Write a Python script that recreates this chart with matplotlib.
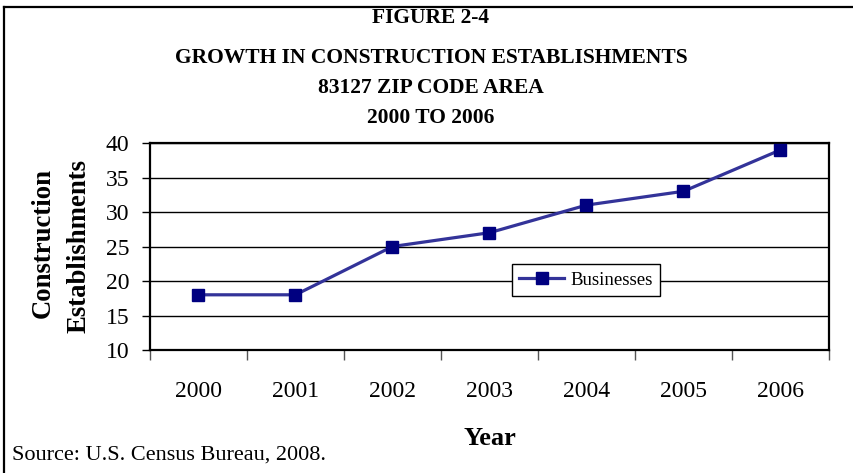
import matplotlib.pyplot as plt
from matplotlib.lines import Line2D

years = ['2000', '2001', '2002', '2003', '2004', '2005', '2006']
businesses = [18, 18, 25, 27, 31, 33, 39]
yticks = [10, 15, 20, 25, 30, 35, 40]
title_lines = ['FIGURE 2-4',
               'GROWTH IN CONSTRUCTION ESTABLISHMENTS',
               '83127 ZIP CODE AREA',
               '2000 TO 2006']

plt.rcParams['font.family'] = ['Liberation Serif', 'DejaVu Serif']

W, H = 854, 473
fig = plt.figure(figsize=(W / 100, H / 100), dpi=100)
ax = fig.add_axes([150 / W, 1 - 350 / H, (829 - 150) / W, (350 - 143) / H])

x = list(range(len(years)))
ax.plot(x, businesses, color='#333399', lw=2.3, marker='s', ms=8,
        mfc='#000080', mec='#000080', label='Businesses', zorder=3)

ax.set_xlim(-0.5, len(years) - 0.5)
ax.set_ylim(10, 40)
ax.set_yticks(yticks)
ax.tick_params(axis='y', labelsize=17, length=6, width=1, pad=9, colors='black')
ax.set_xticks([i - 0.5 for i in range(len(years) + 1)])
ax.set_xticklabels([])
ax.tick_params(axis='x', which='major', length=7, width=1, direction='out', color='#555555')
ax.set_xticks(x, minor=True)
ax.set_xticklabels(years, minor=True)
ax.tick_params(axis='x', which='minor', length=0, labelsize=17, pad=22)

ax.yaxis.grid(True, color='black', lw=1)
ax.set_axisbelow(True)
for s in ax.spines.values():
    s.set_linewidth(1.6)
    s.set_color('black')

leg = ax.legend(loc='lower left', bbox_to_anchor=(0.533, 0.26), fontsize=13.5,
                frameon=True, fancybox=False, edgecolor='black', framealpha=1,
                handlelength=2.4, borderpad=0.4, handletextpad=0.3,
                borderaxespad=0)
leg.get_frame().set_linewidth(1)

# title lines
ty = [18, 58, 88, 118]
for t, yy in zip(title_lines, ty):
    fig.text(431 / W, 1 - yy / H, t, ha='center', va='center',
             fontsize=15.5, fontweight='bold')

fig.text(43 / W, 1 - 243 / H, 'Construction', rotation=90, ha='center', va='center',
         fontsize=19.3, fontweight='bold')
fig.text(79 / W, 1 - 246 / H, 'Establishments', rotation=90, ha='center', va='center',
         fontsize=19.3, fontweight='bold')
fig.text(490 / W, 1 - 438 / H, 'Year', ha='center', va='center',
         fontsize=19, fontweight='bold')
fig.text(12 / W, 1 - 455 / H, 'Source: U.S. Census Bureau, 2008.', ha='left', va='center',
         fontsize=16)

# outer border (cropped on right and bottom)
fig.add_artist(Line2D([4 / W, 1.0], [1 - 7 / H, 1 - 7 / H], color='black', lw=1.6,
                      transform=fig.transFigure))
fig.add_artist(Line2D([4 / W, 4 / W], [1 - 7 / H, 0.0], color='black', lw=1.6,
                      transform=fig.transFigure))

fig.savefig('out.png', dpi=100)
